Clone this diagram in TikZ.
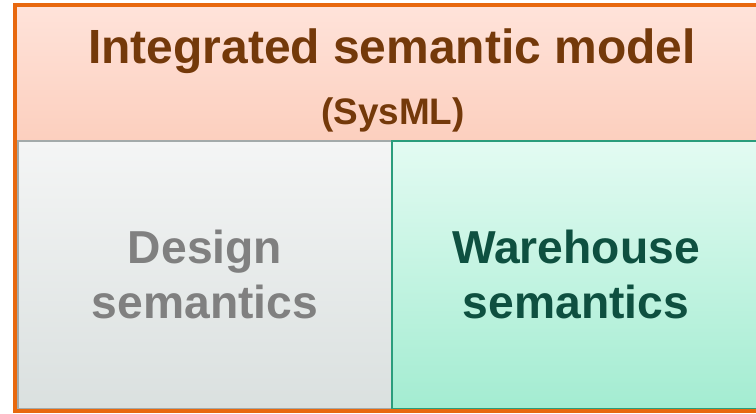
\documentclass[tikz,border=0pt]{standalone}
\usepackage{fontspec}
\setmainfont{Liberation Sans}
\usepackage{tikz}
\usepackage{xcolor}

\definecolor{frameorange}{HTML}{E8680E}
\definecolor{headtop}{HTML}{FFE3DA}
\definecolor{headbot}{HTML}{FCCFBE}
\definecolor{headtext}{HTML}{74390A}
\definecolor{greytop}{HTML}{F4F5F5}
\definecolor{greybot}{HTML}{DAE0DF}
\definecolor{greyline}{HTML}{A3AAAA}
\definecolor{greytext}{HTML}{808080}
\definecolor{greentop}{HTML}{E3FBF2}
\definecolor{greenbot}{HTML}{A3ECD1}
\definecolor{greenline}{HTML}{2A9D7C}
\definecolor{greentext}{HTML}{0E5040}

\begin{document}
\begin{tikzpicture}[x=0.2mm, y=0.2mm]
\tikzstyle{every node}+=[inner sep=0pt, font=\bfseries]
\tikzstyle{bigtext}=[font=\fontsize{26.3}{31}\selectfont\bfseries, anchor=base]
\useasboundingbox (0,0) rectangle (756,-413);
% header
\shade [top color=headtop, bottom color=headbot] (15,-5) rectangle (762,-141);
\draw (392,-63) node [anchor=base, text=headtext, font=\fontsize{27.3}{32}\selectfont\bfseries] (title) {Integrated semantic model};
\draw (393,-124) node [anchor=base, text=headtext, font=\fontsize{21}{25}\selectfont\bfseries] (sysml) {(SysML)};
% design part
\shade [top color=greytop, bottom color=greybot] (18,-141) rectangle (392,-409);
\draw [greyline, line width=1pt] (18,-409) -- (18,-141) -- (392,-141) -- (392,-409) -- cycle;
\draw (205,-263) node [bigtext, text=greytext] (design) {Design};
\draw (205,-318) node [bigtext, text=greytext] (designsem) {semantics};
% warehouse part
\shade [top color=greentop, bottom color=greenbot] (392,-141) rectangle (760,-409);
\draw [greenline, line width=1.2pt] (392,-409) -- (392,-141) -- (760,-141) -- (760,-409) -- cycle;
\draw (576,-263) node [bigtext, text=greentext] (warehouse) {Warehouse};
\draw (576,-318) node [bigtext, text=greentext] (warehousesem) {semantics};
% frame
\draw [frameorange, line width=2.2pt] (15,-5) rectangle (762,-411);
\end{tikzpicture}
\end{document}
